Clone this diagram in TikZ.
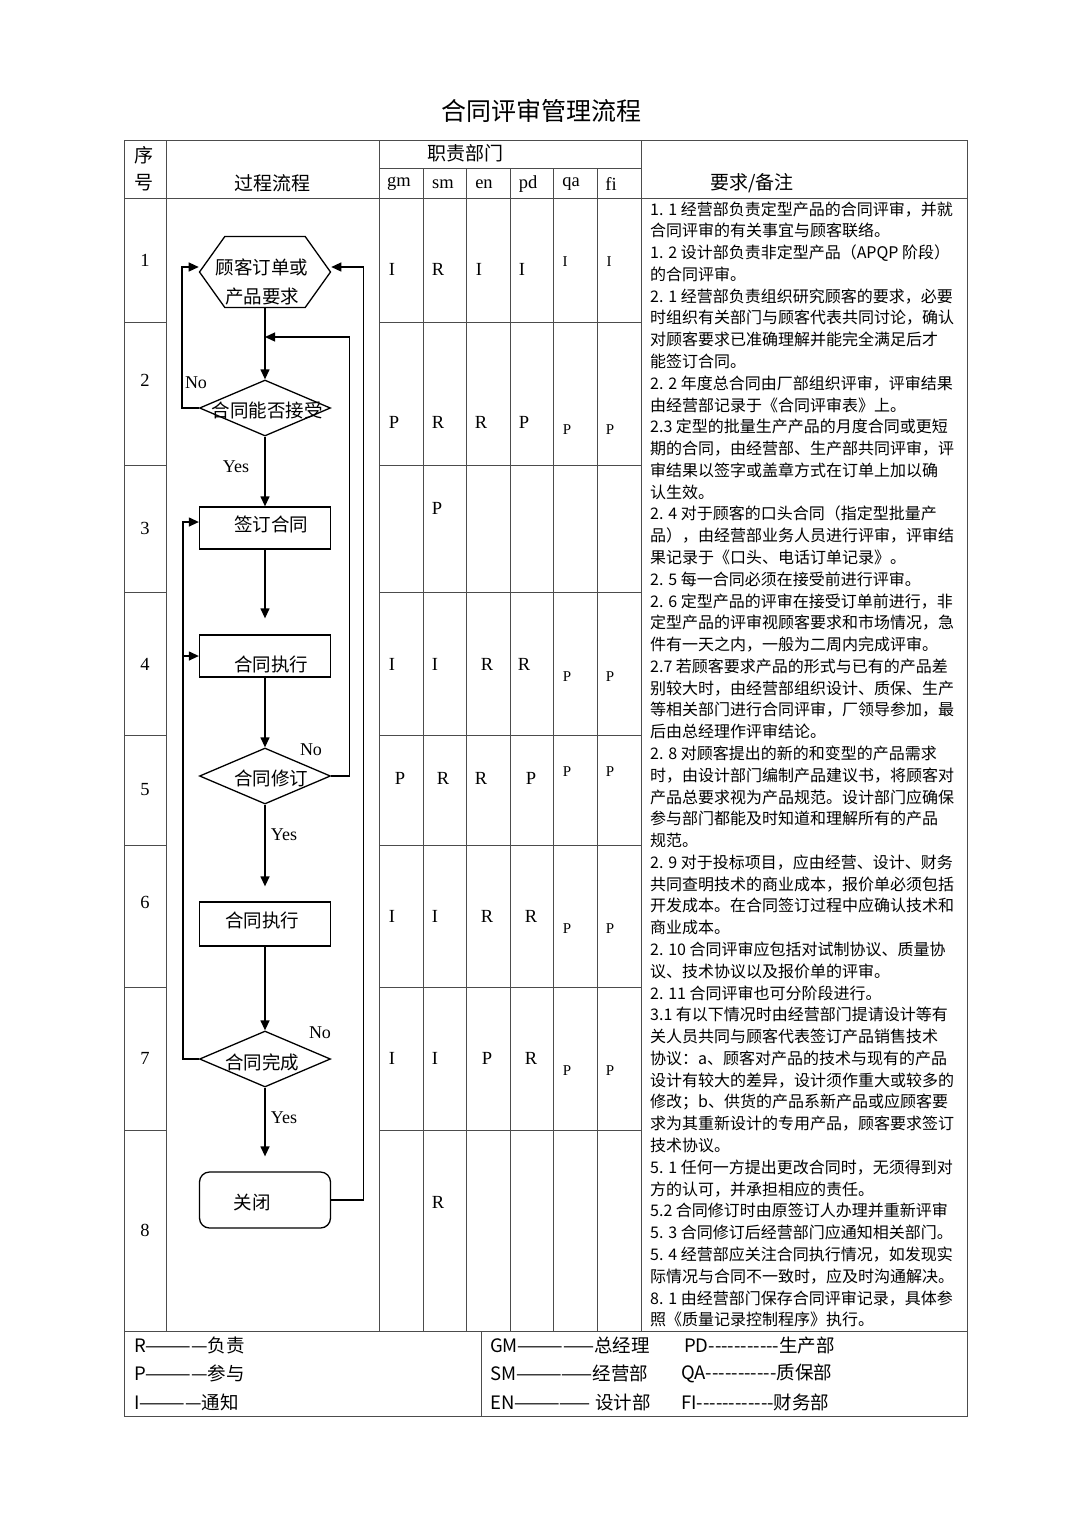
\documentclass[tikz,border=0pt]{standalone}
\usepackage{fontspec}
\setmainfont{Liberation Serif}
\newfontfamily\cjk{Noto Sans CJK SC}
\usetikzlibrary{shapes.geometric,shapes.symbols,arrows.meta,positioning}

\begin{document}
\begin{tikzpicture}[x=1pt, y=-1pt,
	grid/.style={draw=black!70, line width=0.9pt},
	flow/.style={line width=1.3pt, -{Triangle[length=10pt,width=9pt]}},
	hexa/.style={draw, line width=1.3pt, signal, signal to=west and east,
	signal pointer angle=109, minimum width=131pt, minimum height=71pt, inner sep=0pt},
	dmnd/.style={draw, line width=1.3pt, diamond, aspect=2.34,
	minimum width=131pt, minimum height=56pt, inner sep=0pt},
	stepbox/.style={draw, line width=1.3pt, minimum width=131pt, minimum height=42pt, inner sep=0pt},
	txt/.style={font=\cjk\fontsize{18.5}{29}\selectfont, align=center},
	head/.style={font=\cjk\fontsize{19}{22}\selectfont},
	yn/.style={font=\fontsize{18}{20}\selectfont},
	cell/.style={font=\fontsize{18.5}{20}\selectfont},
	cellsm/.style={font=\fontsize{15}{16}\selectfont},
	note/.style={font=\cjk\fontsize{16}{20}\selectfont, anchor=base west, inner sep=0pt},
	legend/.style={font=\cjk\fontsize{18.5}{20}\selectfont, anchor=west, inner sep=0pt}]
\useasboundingbox (0,0) rectangle (1080,1527);
\fill[white] (0,0) rectangle (1080,1527);

% title
\node[font=\cjk\fontsize{25}{30}\selectfont] (title) at (541,111) {合同评审管理流程};

% table lines
\draw[grid] (124,140) rectangle (967,1416);
\draw[grid] (166,140) -- (166,1331);
\draw[grid] (379,140) -- (379,1331);
\draw[grid] (641,140) -- (641,1331);
\draw[grid] (379,168) -- (641,168);
\draw[grid] (124,198) -- (967,198);
\draw[grid] (124,1331) -- (967,1331);
\draw[grid] (481,1331) -- (481,1416);
\foreach \x in {423,466,510,553,597}
	\draw[grid] (\x,168) -- (\x,1331);
\foreach \y in {322,465,592,735,845,987,1130} {
	\draw[grid] (124,\y) -- (166,\y);
	\draw[grid] (379,\y) -- (641,\y);
}

% header
\node[head] (hxu) at (144,155) {序};
\node[head] (hhao) at (144,183) {号};
\node[head] (hflow) at (272,183) {过程流程};
\node[head] (hdept) at (465,153) {职责部门};
\node[head] (hnote) at (752,183) {要求/备注};
\node[cell] (hgm) at (399,184) {gm};
\node[cell] (hsm) at (443,184) {sm};
\node[cell] (hen) at (484,184) {en};
\node[cell] (hpd) at (528,184) {pd};
\node[cell] (hqa) at (571,184) {qa};
\node[cell] (hfi) at (611,184) {fi};

% row numbers
\foreach \n/\y in {1/260,2/380,3/528,4/664,5/790,6/902,7/1058,8/1230}
	\node[cell] (no\n) at (145,\y) {\n};

% flow chart
\node[hexa, label={[txt, xshift=-3pt, yshift=-10pt]center:顾客订单或\\产品要求}] (order) at (265,272) {};
\node[dmnd, label={[txt, xshift=2pt, yshift=-2pt]center:合同能否接受}] (accept) at (265,408) {};
\node[stepbox, label={[txt, xshift=6pt, yshift=4pt]center:签订合同}] (sign) at (265,528) {};
\node[stepbox, label={[txt, xshift=6pt, yshift=-8pt]center:合同执行}] (exec1) at (265,656) {};
\node[dmnd, label={[txt, xshift=6pt, yshift=-2pt]center:合同修订}] (revise) at (265,776) {};
\node[stepbox, minimum height=44pt, label={[txt, xshift=-3pt, yshift=4pt]center:合同执行}] (exec2) at (265,924) {};
\node[dmnd, label={[txt, xshift=-3pt, yshift=-3pt]center:合同完成}] (finish) at (265,1059) {};
\node[stepbox, rounded corners=10pt, minimum height=56pt, label={[txt, xshift=-13pt, yshift=-2pt]center:关闭}] (close) at (265,1200) {};
\coordinate (join) at (265,337);

\draw[flow] (order) to (accept);
\draw[flow] (accept) to (sign);
\draw[flow, shorten >=16pt] (sign) to (exec1);
\draw[flow] (exec1) to (revise);
\draw[flow, shorten >=15pt] (revise) to (exec2);
\draw[flow] (exec2) to (finish);
\draw[flow, shorten >=15pt] (finish) to (close);
\draw[flow] (accept.west) -- ++(-17,0) |- ([yshift=5pt]order.west);
\draw[flow] (revise.east) -- ++(18,0) |- (join);
\draw[flow] (finish.west) -- ++(-16,0) |- ([yshift=6pt]sign.west);
\draw[flow] ([xshift=-16pt]finish.west |- exec1.west) -- (exec1.west);
\draw[flow] (close.east) -- ++(32,0) |- ([yshift=5pt]order.east);

\node[yn] (no1) at (196,383) {No};
\node[yn] (yes1) at (236,467) {Yes};
\node[yn] (no2) at (311,750) {No};
\node[yn] (yes2) at (284,835) {Yes};
\node[yn] (no3) at (320,1033) {No};
\node[yn] (yes3) at (284,1118) {Yes};

% responsibility matrix
\node[cell] (r1gm) at (392,269) {I};
\node[cell] (r1sm) at (438,269) {R};
\node[cell] (r1en) at (479,269) {I};
\node[cell] (r1pd) at (522,269) {I};
\node[cellsm] (r1qa) at (565,262) {I};
\node[cellsm] (r1fi) at (609,262) {I};
\node[cell] (r2gm) at (394,422) {P};
\node[cell] (r2sm) at (438,422) {R};
\node[cell] (r2en) at (481,422) {R};
\node[cell] (r2pd) at (524,422) {P};
\node[cellsm] (r2qa) at (567,430) {P};
\node[cellsm] (r2fi) at (610,430) {P};
\node[cell] (r3sm) at (437,508) {P};
\node[cell] (r4gm) at (392,664) {I};
\node[cell] (r4sm) at (435,664) {I};
\node[cell] (r4en) at (487,664) {R};
\node[cell] (r4pd) at (524,664) {R};
\node[cellsm] (r4qa) at (567,677) {P};
\node[cellsm] (r4fi) at (610,677) {P};
\node[cell] (r5gm) at (400,778) {P};
\node[cell] (r5sm) at (443,778) {R};
\node[cell] (r5en) at (481,778) {R};
\node[cell] (r5pd) at (531,778) {P};
\node[cellsm] (r5qa) at (567,772) {P};
\node[cellsm] (r5fi) at (610,772) {P};
\node[cell] (r6gm) at (392,916) {I};
\node[cell] (r6sm) at (435,916) {I};
\node[cell] (r6en) at (487,916) {R};
\node[cell] (r6pd) at (531,916) {R};
\node[cellsm] (r6qa) at (567,929) {P};
\node[cellsm] (r6fi) at (610,929) {P};
\node[cell] (r7gm) at (392,1058) {I};
\node[cell] (r7sm) at (435,1058) {I};
\node[cell] (r7en) at (487,1058) {P};
\node[cell] (r7pd) at (531,1058) {R};
\node[cellsm] (r7qa) at (567,1071) {P};
\node[cellsm] (r7fi) at (610,1071) {P};
\node[cell] (r8sm) at (438,1202) {R};

% requirements
\foreach \t [count=\i] in {1. 1 经营部负责定型产品的合同评审，并就,
	合同评审的有关事宜与顾客联络。,
	1. 2 设计部负责非定型产品（APQP 阶段）,
	的合同评审。,
	2. 1 经营部负责组织研究顾客的要求，必要,
	时组织有关部门与顾客代表共同讨论，确认,
	对顾客要求已准确理解并能完全满足后才,
	能签订合同。,
	2. 2 年度总合同由厂部组织评审，评审结果,
	由经营部记录于《合同评审表》上。,
	2.3 定型的批量生产产品的月度合同或更短,
	期的合同，由经营部、生产部共同评审，评,
	审结果以签字或盖章方式在订单上加以确,
	认生效。,
	2. 4 对于顾客的口头合同（指定型批量产,
	品），由经营部业务人员进行评审，评审结,
	果记录于《口头、电话订单记录》。,
	2. 5 每一合同必须在接受前进行评审。,
	2. 6 定型产品的评审在接受订单前进行，非,
	定型产品的评审视顾客要求和市场情况，急,
	件有一天之内，一般为二周内完成评审。,
	2.7 若顾客要求产品的形式与已有的产品差,
	别较大时，由经营部组织设计、质保、生产,
	等相关部门进行合同评审，厂领导参加，最,
	后由总经理作评审结论。,
	2. 8 对顾客提出的新的和变型的产品需求,
	时，由设计部门编制产品建议书，将顾客对,
	产品总要求视为产品规范。设计部门应确保,
	参与部门都能及时知道和理解所有的产品,
	规范。,
	2. 9 对于投标项目，应由经营、设计、财务,
	共同查明技术的商业成本，报价单必须包括,
	开发成本。在合同签订过程中应确认技术和,
	商业成本。,
	2. 10 合同评审应包括对试制协议、质量协,
	议、技术协议以及报价单的评审。,
	2. 11 合同评审也可分阶段进行。,
	3.1 有以下情况时由经营部门提请设计等有,
	关人员共同与顾客代表签订产品销售技术,
	协议：a、顾客对产品的技术与现有的产品,
	设计有较大的差异，设计须作重大或较多的,
	修改；b、供货的产品系新产品或应顾客要,
	求为其重新设计的专用产品，顾客要求签订,
	技术协议。,
	5. 1 任何一方提出更改合同时，无须得到对,
	方的认可，并承担相应的责任。,
	5.2 合同修订时由原签订人办理并重新评审,
	5. 3 合同修订后经营部门应通知相关部门。,
	5. 4 经营部应关注合同执行情况，如发现实,
	际情况与合同不一致时，应及时沟通解决。,
	8. 1 由经营部门保存合同评审记录，具体参,
	照《质量记录控制程序》执行。}
	\node[note] (note\i) at (650,{215+21.78*(\i-1)}) {\t};

% legend
\node[legend] (legR) at (134,1345) {R————负责};
\node[legend] (legP) at (134,1373) {P————参与};
\node[legend] (legI) at (134,1402) {I————通知};
\node[legend] (legGM) at (490,1345) {GM—————总经理};
\node[legend] (legSM) at (490,1373) {SM—————经营部};
\node[legend] (legEN) at (490,1402) {EN————— 设计部};
\node[legend] (legPD) at (684,1345) {PD-----------生产部};
\node[legend] (legQA) at (681,1373) {QA-----------质保部};
\node[legend] (legFI) at (681,1402) {FI------------财务部};
\end{tikzpicture}
\end{document}
